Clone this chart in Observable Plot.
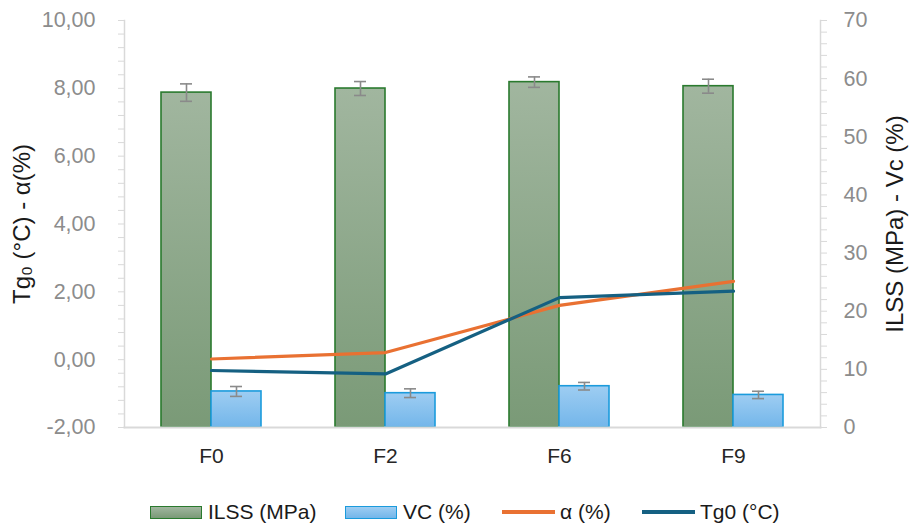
<!DOCTYPE html>
<html>
<head>
<meta charset="utf-8">
<script src="https://cdn.jsdelivr.net/npm/d3@7"></script>
<script src="https://cdn.jsdelivr.net/npm/@observablehq/plot@0.6"></script>
<style>
  html, body { margin: 0; padding: 0; background: #fff; }
  #chart { position: relative; width: 919px; height: 527px; font-family: "Liberation Sans", Arial, sans-serif; }
  #chart svg { display: block; }
  .legend { position: relative; height: 37px; font-family: "Liberation Sans", Arial, sans-serif; font-size: 21px; color: #1a1a1a; }
  .item { position: absolute; top: 10px; height: 24px; display: flex; align-items: center; white-space: nowrap; }
  .sw { display: inline-block; width: 52px; height: 13px; margin-right: 6px; box-sizing: border-box; }
  .ln { display: inline-block; width: 53px; height: 4px; margin-right: 5px; }
</style>
</head>
<body>
<div id="chart"></div>
<script>
// ---- data ----
const categories = ["F0", "F2", "F6", "F9"];
const ilss = [57.6, 58.3, 59.4, 58.7];        // MPa (right axis)
const ilssErr = [1.5, 1.2, 0.9, 1.2];
const vc = [6.2, 5.9, 7.1, 5.6];               // % (right axis)
const vcErr = [0.85, 0.75, 0.65, 0.63];
const alpha = [0.02, 0.21, 1.60, 2.31];        // % (left axis)
const tg0 = [-0.32, -0.42, 1.83, 2.02];        // °C (left axis)
const leftTicks = [-2, 0, 2, 4, 6, 8, 10];
const rightTicks = [0, 10, 20, 30, 40, 50, 60, 70];
const leftDomain = [-2, 10];
const rightDomain = [0, 70];
const seriesNames = ["ILSS (MPa)", "VC (%)", "α (%)", "Tg0 (°C)"];

// ---- secondary axis mapping (right -> left scale units) ----
const toLeft = v => leftDomain[0] + (v - rightDomain[0]) / (rightDomain[1] - rightDomain[0]) * (leftDomain[1] - leftDomain[0]);
const toRight = v => rightDomain[0] + (v - leftDomain[0]) / (leftDomain[1] - leftDomain[0]) * (rightDomain[1] - rightDomain[0]);

const barData = categories.map((c, i) => ({
  cat: c,
  ilss: toLeft(ilss[i]), ilssLo: toLeft(ilss[i] - ilssErr[i]), ilssHi: toLeft(ilss[i] + ilssErr[i]),
  vc: toLeft(vc[i]), vcLo: toLeft(vc[i] - vcErr[i]), vcHi: toLeft(vc[i] + vcErr[i]),
  alpha: alpha[i], tg0: tg0[i]
}));

const leftMinor = d3.range(leftDomain[0], leftDomain[1] + 1e-9, 0.4);
const rightMinor = d3.range(rightDomain[0], rightDomain[1] + 1e-9, 2).map(toLeft);

const fmtLeft = d => d.toFixed(2).replace(".", ",");
const fmtRight = d => String(Math.round(toRight(d)));

const colors = {
  ilssStroke: "#2a7a2e", vcStroke: "#1b9bdc",
  alpha: "#e97132", tg0: "#156082",
  err: "#8a8a8a", axis: "#d9d9d9", tick: "#8c8c8c"
};

const defs = () => {
  const g = d3.create("svg:defs");
  const a = g.append("linearGradient").attr("id", "gIlss").attr("x1", 0).attr("y1", 0).attr("x2", 0).attr("y2", 1);
  a.append("stop").attr("offset", "0%").attr("stop-color", "#a1b69f");
  a.append("stop").attr("offset", "100%").attr("stop-color", "#7a9a77");
  const b = g.append("linearGradient").attr("id", "gVc").attr("x1", 0).attr("y1", 0).attr("x2", 0).attr("y2", 1);
  b.append("stop").attr("offset", "0%").attr("stop-color", "#9ecdf2");
  b.append("stop").attr("offset", "100%").attr("stop-color", "#73b6ea");
  return g.node();
};

const plot = Plot.plot({
  width: 919,
  height: 490,
  marginLeft: 124,
  marginRight: 99,
  marginTop: 20,
  marginBottom: 63,
  style: { fontFamily: "'Liberation Sans', Arial, sans-serif", fontSize: "21px", background: "#fff" },
  x: { type: "band", domain: categories, padding: 0, axis: null },
  y: { domain: leftDomain, axis: null },
  marks: [
    defs,
    // bars
    Plot.barY(barData, { x: "cat", y1: leftDomain[0], y2: "ilss", insetLeft: 37, insetRight: 87, fill: "url(#gIlss)", stroke: colors.ilssStroke, strokeWidth: 1.6 }),
    Plot.barY(barData, { x: "cat", y1: leftDomain[0], y2: "vc", insetLeft: 87, insetRight: 37, fill: "url(#gVc)", stroke: colors.vcStroke, strokeWidth: 1.6 }),
    // error bars
    Plot.ruleX(barData, { x: "cat", y1: "ilssLo", y2: "ilssHi", dx: -25, stroke: colors.err, strokeWidth: 1.6 }),
    Plot.tickY(barData, { x: "cat", y: "ilssLo", insetLeft: 56, insetRight: 106, stroke: colors.err, strokeWidth: 1.6 }),
    Plot.tickY(barData, { x: "cat", y: "ilssHi", insetLeft: 56, insetRight: 106, stroke: colors.err, strokeWidth: 1.6 }),
    Plot.ruleX(barData, { x: "cat", y1: "vcLo", y2: "vcHi", dx: 25, stroke: colors.err, strokeWidth: 1.6 }),
    Plot.tickY(barData, { x: "cat", y: "vcLo", insetLeft: 106, insetRight: 56, stroke: colors.err, strokeWidth: 1.6 }),
    Plot.tickY(barData, { x: "cat", y: "vcHi", insetLeft: 106, insetRight: 56, stroke: colors.err, strokeWidth: 1.6 }),
    // frame lines
    Plot.frame({ anchor: "left", stroke: colors.axis, strokeWidth: 1.5 }),
    Plot.frame({ anchor: "right", stroke: colors.axis, strokeWidth: 1.5 }),
    Plot.frame({ anchor: "bottom", stroke: colors.axis, strokeWidth: 2 }),
    // lines
    Plot.lineY(barData, { x: "cat", y: "alpha", stroke: colors.alpha, strokeWidth: 3.2 }),
    Plot.lineY(barData, { x: "cat", y: "tg0", stroke: colors.tg0, strokeWidth: 3.2 }),
    // left axis
    Plot.axisY(leftMinor, { anchor: "left", tickSize: 6, stroke: colors.axis, text: null, label: null }),
    Plot.axisY(leftTicks, { anchor: "left", tickSize: 0, tickPadding: 29, tickFormat: fmtLeft, fill: colors.tick, fontSize: 21.5, label: null }),
    Plot.axisY({ anchor: "left", ticks: [], tickSize: 0, label: "Tg₀ (°C) - α(%)", labelAnchor: "center", labelArrow: "none", labelOffset: 112, fill: "#1a1a1a", fontSize: 24 }),
    // right axis
    Plot.axisY(rightMinor, { anchor: "right", tickSize: 6, stroke: colors.axis, text: null, label: null }),
    Plot.axisY(rightTicks.map(toLeft), { anchor: "right", tickSize: 0, tickPadding: 23, tickFormat: fmtRight, fill: colors.tick, fontSize: 21.5, label: null }),
    Plot.axisY({ anchor: "right", ticks: [], tickSize: 0, label: "ILSS (MPa) - Vc (%)", labelAnchor: "center", labelArrow: "none", labelOffset: 82, fill: "#1a1a1a", fontSize: 24 }),
    // x axis labels
    Plot.axisX({ anchor: "bottom", tickSize: 0, tickPadding: 21, fill: "#262626", fontSize: 21, label: null })
  ]
});

const chart = document.getElementById("chart");
chart.appendChild(plot);

// legend
const legend = document.createElement("div");
legend.className = "legend";
const items = [
  { name: seriesNames[0], left: 150, kind: "sw", bg: "linear-gradient(#a1b69f,#7a9a77)", border: colors.ilssStroke },
  { name: seriesNames[1], left: 345, kind: "sw", bg: "linear-gradient(#9ecdf2,#73b6ea)", border: colors.vcStroke },
  { name: seriesNames[2], left: 502, kind: "ln", bg: colors.alpha },
  { name: seriesNames[3], left: 642, kind: "ln", bg: colors.tg0 }
];
for (const it of items) {
  const d = document.createElement("div");
  d.className = "item";
  d.style.left = it.left + "px";
  const s = document.createElement("span");
  s.className = it.kind;
  s.style.background = it.bg;
  if (it.border) s.style.border = "1.5px solid " + it.border;
  d.appendChild(s);
  const t = document.createElement("span");
  t.textContent = it.name;
  d.appendChild(t);
  legend.appendChild(d);
}
chart.appendChild(legend);
</script>
</body>
</html>
